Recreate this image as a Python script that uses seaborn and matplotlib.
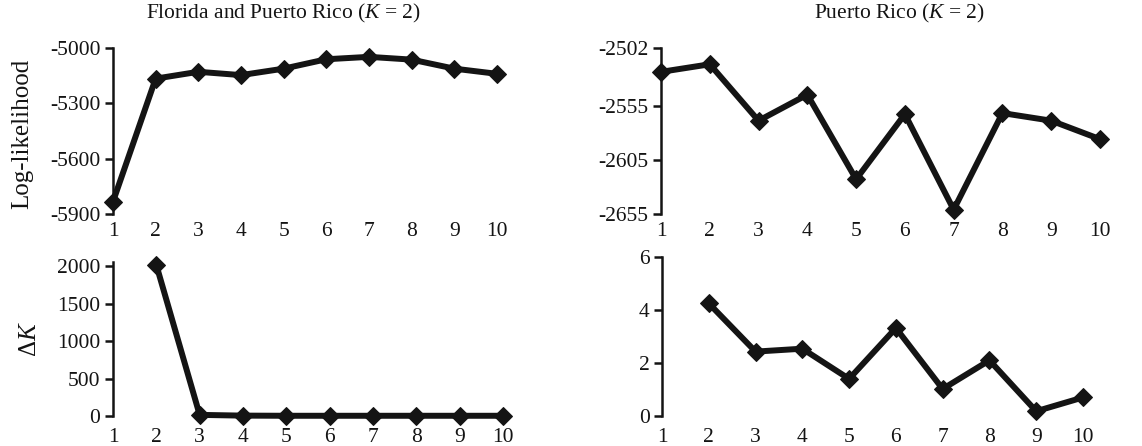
import matplotlib
matplotlib.use("Agg")
import matplotlib.pyplot as plt
import seaborn as sns
import pandas as pd

# ---- data ----
k_all = [1, 2, 3, 4, 5, 6, 7, 8, 9, 10]
k_delta = [2, 3, 4, 5, 6, 7, 8, 9, 10]

fl_pr_loglik = [-5833, -5166, -5129, -5147, -5112, -5061, -5048, -5063, -5112, -5140]
pr_loglik = [-2524, -2517, -2569, -2545, -2623, -2563, -2651, -2562, -2569, -2586]
fl_pr_delta = [2020, 15, 5, 3, 3, 3, 3, 3, 3]
pr_delta = [4.25, 2.43, 2.54, 1.40, 3.32, 1.02, 2.10, 0.18, 0.70]

tl_yticks = [-5900, -5600, -5300, -5000]
tr_yticks = [-2655, -2605, -2555, -2502]
bl_yticks = [0, 500, 1000, 1500, 2000]
br_yticks = [0, 2, 4, 6]
xtick_labels = ["1", "2", "3", "4", "5", "6", "7", "8", "9", "10"]

title_left = "Florida and Puerto Rico ($K$ = 2)"
title_right = "Puerto Rico ($K$ = 2)"
ylabel_top = "Log-likelihood"
ylabel_bottom = r"$\Delta K$"

# ---- style ----
sns.set_style("white")
plt.rcParams["font.family"] = ["Liberation Serif", "DejaVu Serif"]
plt.rcParams["mathtext.fontset"] = "custom"
plt.rcParams["mathtext.rm"] = "Liberation Serif"
plt.rcParams["mathtext.it"] = "Liberation Serif:italic"
plt.rcParams["mathtext.bf"] = "Liberation Serif:bold"

W, H = 1142, 446
fig = plt.figure(figsize=(W / 100, H / 100), dpi=100)

def box(x0, x1, ytop, ybot):
    return [x0 / W, 1 - ybot / H, (x1 - x0) / W, (ybot - ytop) / H]

ax_tl = fig.add_axes(box(113, 497, 48, 214))
ax_tr = fig.add_axes(box(661, 1100, 48, 214))
ax_bl = fig.add_axes(box(113, 503, 262, 416))
ax_br = fig.add_axes(box(662, 1083, 257, 416))

LINE = "#141414"
FS = 15.5

def draw(ax, x, y, yticks, ylim, xpad):
    df = pd.DataFrame({"k": x, "v": y})
    sns.lineplot(data=df, x="k", y="v", ax=ax, color=LINE, linewidth=4.3,
                 marker="D", markersize=9, markeredgecolor=LINE,
                 markerfacecolor=LINE, clip_on=False)
    ax.set_xlim(1, 10)
    ax.set_ylim(*ylim)
    ax.set_yticks(yticks)
    ax.set_yticklabels([str(t) for t in yticks])
    ax.set_xticks(k_all)
    ax.set_xticklabels(xtick_labels)
    for s in ["top", "right", "bottom"]:
        ax.spines[s].set_visible(False)
    ax.spines["left"].set_linewidth(1.8)
    ax.spines["left"].set_color(LINE)
    ax.tick_params(axis="y", direction="out", length=6, width=1.8,
                   colors=LINE, labelsize=FS, pad=3, left=True)
    ax.tick_params(axis="x", length=0, labelsize=FS, pad=xpad, colors=LINE)
    ax.set_xlabel("")
    ax.set_ylabel("")
    ax.grid(False)

draw(ax_tl, k_all, fl_pr_loglik, tl_yticks, (-5900, -5000), 6)
draw(ax_tr, k_all, pr_loglik, tr_yticks, (-2655, -2502), 6)
draw(ax_bl, k_delta, fl_pr_delta, bl_yticks, (0, 2060), 9)
draw(ax_br, k_delta, pr_delta, br_yticks, (0, 6), 9)

ax_tl.set_ylabel(ylabel_top, fontsize=18, color=LINE)
ax_tl.yaxis.set_label_coords(-0.208, 0.485)
ax_bl.set_ylabel(ylabel_bottom, fontsize=18, color=LINE)
ax_bl.yaxis.set_label_coords(-0.185, 0.5)

ax_tl.text(0.445, 1.21, title_left, transform=ax_tl.transAxes,
           ha="center", va="center", fontsize=FS, color=LINE)
ax_tr.text(0.544, 1.21, title_right, transform=ax_tr.transAxes,
           ha="center", va="center", fontsize=FS, color=LINE)

fig.savefig("out.png", dpi=100)
